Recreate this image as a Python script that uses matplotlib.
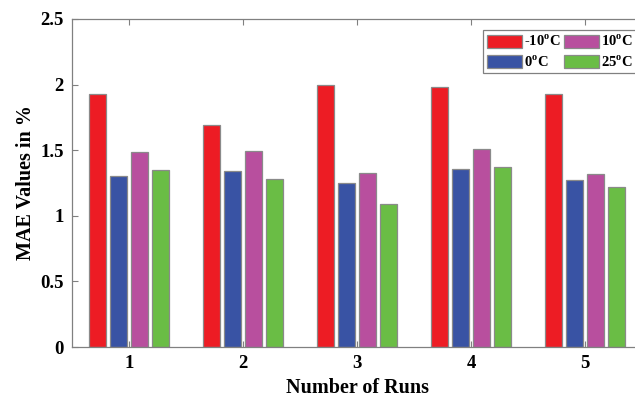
import numpy as np
import matplotlib
matplotlib.use("Agg")
import matplotlib.pyplot as plt

plt.rcParams['font.family'] = ['Liberation Serif', 'DejaVu Serif']
plt.rcParams['font.weight'] = 'bold'
plt.rcParams['mathtext.fontset'] = 'custom'
plt.rcParams['mathtext.rm'] = 'Liberation Serif:bold'
plt.rcParams['mathtext.bf'] = 'Liberation Serif:bold'

runs = [1, 2, 3, 4, 5]
series_labels = ['-10$^{\\mathrm{o}}$C', '0$^{\\mathrm{o}}$C', '10$^{\\mathrm{o}}$C', '25$^{\\mathrm{o}}$C']
mae_m10 = [1.93, 1.69, 2.00, 1.985, 1.925]
mae_0 = [1.30, 1.34, 1.25, 1.36, 1.27]
mae_10 = [1.485, 1.495, 1.325, 1.51, 1.32]
mae_25 = [1.35, 1.28, 1.09, 1.37, 1.22]
colors = ['#ED1C24', '#3953A4', '#B84F9E', '#6ABD45']

fig = plt.figure(figsize=(6.35, 3.97), dpi=100)
ax = fig.add_axes([72/635, 1 - 347/397, 570/635, (347-19)/397])

x = np.array(runs, dtype=float)
step = 0.184
width = 0.15
offsets = [-1.5*step, -0.5*step, 0.5*step, 1.5*step]
handles = []
for vals, off, col, lab in zip([mae_m10, mae_0, mae_10, mae_25], offsets, colors, series_labels):
    h = ax.bar(x + off, vals, width=width, color=col, edgecolor='#8a8a8a', linewidth=0.9, label=lab)
    handles.append(h)

ax.set_xlim(0.5, 5.5)
ax.set_ylim(0, 2.5)
ax.set_xticks(runs)
ax.set_yticks([0, 0.5, 1, 1.5, 2, 2.5])
ax.set_yticklabels(['0', '0.5', '1', '1.5', '2', '2.5'])
ax.tick_params(direction='in', length=4, color='#808080', labelsize=13.5, top=True, right=True, pad=6)
for lab in ax.get_xticklabels() + ax.get_yticklabels():
    lab.set_fontweight('bold')
for s in ax.spines.values():
    s.set_color('#808080')
    s.set_linewidth(0.9)

ax.set_xlabel('Number of Runs', fontsize=14.5, fontweight='bold', labelpad=4)
ax.set_ylabel('MAE Values in %', fontsize=14.5, fontweight='bold', labelpad=3)

leg = ax.legend(handles=handles, ncol=2,
                loc='upper left', bbox_to_anchor=(483/635, 1 - 30/397), bbox_transform=fig.transFigure,
                prop={'weight': 'bold', 'size': 10.5}, handlelength=2.4, handleheight=1.0,
                handletextpad=0.15, columnspacing=0.25, labelspacing=0.35, borderpad=0.25,
                fancybox=False, framealpha=1, edgecolor='#808080', borderaxespad=0)
leg.get_frame().set_linewidth(0.9)

fig.savefig('out.png', dpi=100)
